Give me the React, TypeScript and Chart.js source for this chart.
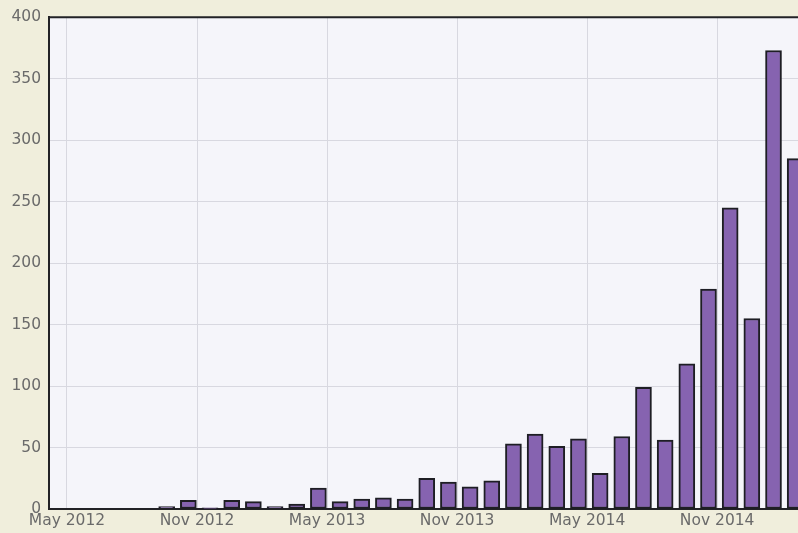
import React, { useEffect, useRef } from "react";
import { Chart, registerables } from "chart.js";

Chart.register(...registerables);

// Month index 0 = May 2012
const firstMonthIndex = 4; // Sep 2012
const monthLabels = [
  "Sep 2012", "Oct 2012", "Nov 2012", "Dec 2012", "Jan 2013", "Feb 2013", "Mar 2013", "Apr 2013",
  "May 2013", "Jun 2013", "Jul 2013", "Aug 2013", "Sep 2013", "Oct 2013", "Nov 2013", "Dec 2013",
  "Jan 2014", "Feb 2014", "Mar 2014", "Apr 2014", "May 2014", "Jun 2014", "Jul 2014", "Aug 2014",
  "Sep 2014", "Oct 2014", "Nov 2014", "Dec 2014", "Jan 2015", "Feb 2015",
];
const counts = [
  2, 7, 1, 7, 6, 2, 4, 17, 6, 8, 9, 8, 25, 22, 18, 23, 53, 61, 51, 57, 29, 59, 99, 56, 118, 179, 245,
  155, 373, 285,
];
const tickMonths = [0, 6, 12, 18, 24, 30];
const tickLabels = ["May 2012", "Nov 2012", "May 2013", "Nov 2013", "May 2014", "Nov 2014"];
const yTicks = [0, 50, 100, 150, 200, 250, 300, 350, 400];

const BAR_OFFSET = 0.6;

const bgPlugin = {
  id: "bgPlugin",
  beforeDraw(chart: any) {
    const { ctx, chartArea } = chart;
    ctx.save();
    ctx.fillStyle = "#f0eedc";
    ctx.fillRect(0, 0, chart.width, chart.height);
    ctx.fillStyle = "#f5f5fa";
    ctx.fillRect(chartArea.left, chartArea.top, chartArea.right - chartArea.left, chartArea.bottom - chartArea.top);
    ctx.restore();
  },
  afterDraw(chart: any) {
    const { ctx, chartArea } = chart;
    ctx.save();
    ctx.strokeStyle = "#222226";
    ctx.lineWidth = 2;
    ctx.beginPath();
    ctx.moveTo(chartArea.left - 1, chartArea.top);
    ctx.lineTo(chartArea.right, chartArea.top);
    ctx.stroke();
    ctx.restore();
  },
};

export default function App() {
  const ref = useRef<HTMLCanvasElement | null>(null);
  useEffect(() => {
    if (!ref.current) return;
    const data = counts.map((v, i) => ({ x: firstMonthIndex + i + BAR_OFFSET, y: v, label: monthLabels[i] }));
    const chart = new Chart(ref.current, {
      type: "bar",
      data: {
        datasets: [
          {
            data: data as any,
            backgroundColor: "#8663b0",
            borderColor: "#1e1e24",
            borderWidth: 2,
            borderSkipped: false,
            barThickness: 16,
          },
        ],
      },
      options: {
        animation: false,
        responsive: true,
        maintainAspectRatio: false,
        layout: { padding: { top: 14, left: 0, right: 0, bottom: 0 } },
        plugins: { legend: { display: false }, tooltip: { enabled: false } },
        scales: {
          x: {
            type: "linear",
            min: -0.83,
            max: 33.73,
            offset: false,
            afterFit(scale: any) {
              scale.height = 24;
            },
            afterBuildTicks(scale: any) {
              scale.ticks = tickMonths.map((v) => ({ value: v }));
            },
            grid: { color: "#d8d8e0", lineWidth: 1, drawTicks: false, offset: false },
            border: { display: true, color: "#222226", width: 2 },
            ticks: {
              autoSkip: false,
              maxRotation: 0,
              padding: 3,
              color: "#6a6a6a",
              font: { family: "DejaVu Sans", size: 15.5 },
              callback: (v: any) => {
                const i = tickMonths.indexOf(Number(v));
                return i >= 0 ? tickLabels[i] : "";
              },
            },
          },
          y: {
            type: "linear",
            min: 0,
            max: 400,
            afterFit(scale: any) {
              scale.width = 49;
            },
            afterBuildTicks(scale: any) {
              scale.ticks = yTicks.map((v) => ({ value: v }));
            },
            grid: { color: "#d8d8e0", lineWidth: 1, drawTicks: false },
            border: { display: true, color: "#222226", width: 2 },
            ticks: {
              padding: 8,
              color: "#6a6a6a",
              font: { family: "DejaVu Sans", size: 15.5 },
            },
          },
        },
      },
      plugins: [bgPlugin],
    });
    return () => chart.destroy();
  }, []);
  return (
    <div style={{ position: "fixed", left: 0, top: 0, width: 798, height: 533, overflow: "hidden" }}>
      <canvas ref={ref} />
    </div>
  );
}
